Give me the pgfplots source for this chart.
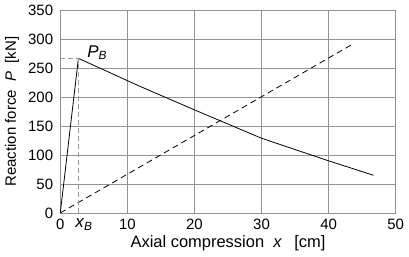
\documentclass[border=0pt]{standalone}
\usepackage{fontspec}
\setmainfont{Liberation Sans}
\usepackage{pgfplots}
\pgfplotsset{compat=1.18}
\begin{document}
\fontsize{15bp}{17bp}\selectfont
\begin{tikzpicture}
\begin{axis}[
  scale only axis,
  width=336bp, height=203bp,
  xmin=0, xmax=50, ymin=0, ymax=350,
  xtick={0,10,20,30,40,50},
  ytick={0,50,100,150,200,250,300,350},
  grid=major,
  grid style={gray!85, line width=0.7pt},
  axis line style={gray!85, line width=0.7pt},
  major tick length=0pt,
  /pgf/number format/assume math mode=true,
  tick label style={font=\fontsize{15bp}{17bp}\selectfont},
  yticklabel style={xshift=-2bp},
  xticklabel style={yshift=-1bp},
  label style={font=\fontsize{15bp}{17bp}\selectfont},
  xlabel={Axial compression\hspace{0.55em}\textit{x}\hspace{0.75em}[cm]},
  ylabel={Reaction force\ \ \textit{P}\ \ [kN]},
  xlabel style={yshift=4bp, font=\fontsize{16.5bp}{19bp}\selectfont},
  ylabel style={yshift=-1bp},
  clip=false,
]
\addplot[black, line width=0.8pt] coordinates {
(0,0) (2.7,267) (11.8,219) (20,178) (30,129) (40,90) (46.7,65)
};
\addplot[black, line width=0.8pt, dash pattern=on 6bp off 4bp] coordinates {
(0,0) (43.8,293)
};
\addplot[gray!80, line width=0.6pt, dash pattern=on 5bp off 3bp] coordinates {
(0,267) (2.7,267) (2.7,0)
};
\node[anchor=base west, inner sep=0pt, font=\fontsize{17bp}{20bp}\selectfont] at (axis cs:4.0,269) {\textit{P}\textsubscript{\textit{B}}};
\node[anchor=base west, inner sep=0pt, font=\fontsize{17bp}{20bp}\selectfont] at (axis cs:2.2,-26) {\textit{x}\textsubscript{\textit{B}}};
\path (rel axis cs:0,1) ++(0,9bp);
\end{axis}
\end{tikzpicture}
\end{document}
